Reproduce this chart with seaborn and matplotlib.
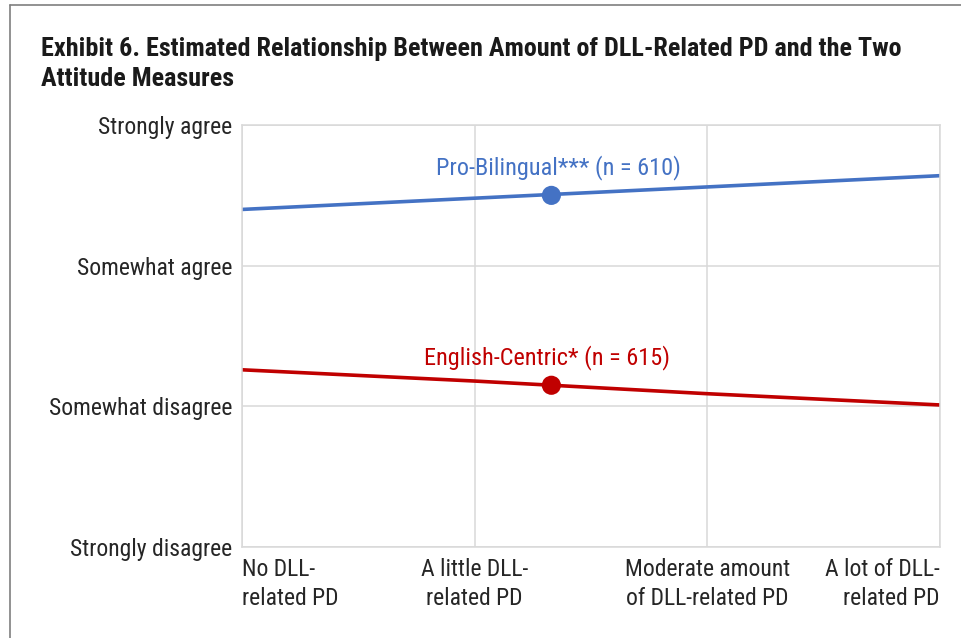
import matplotlib
matplotlib.use('Agg')
import matplotlib.pyplot as plt
import seaborn as sns
import pandas as pd
from matplotlib.lines import Line2D

# Data
pd_levels = ["No DLL-\nrelated PD", "A little DLL-\nrelated PD",
             "Moderate amount\nof DLL-related PD", "A lot of DLL-\nrelated PD"]
attitude_labels = ["Strongly disagree", "Somewhat disagree", "Somewhat agree", "Strongly agree"]
pro_bilingual = [3.40, 3.48, 3.56, 3.64]
english_centric = [2.26, 2.18, 2.09, 2.01]
mean_pd = 1.33
pro_bilingual_mean = 3.50
english_centric_mean = 2.15

blue = "#4472C4"
red = "#C00000"
grid_col = "#D9D9D9"
text_col = "#262626"

sns.set_style("white")
plt.rcParams['font.family'] = ['Roboto Condensed', 'Liberation Sans Narrow',
                               'DejaVu Sans Condensed', 'Roboto', 'DejaVu Sans']

df = pd.DataFrame({
    "pd": list(range(len(pd_levels))) * 2,
    "score": pro_bilingual + english_centric,
    "measure": ["Pro-Bilingual"] * 4 + ["English-Centric"] * 4,
})

fig = plt.figure(figsize=(9.61, 6.38), dpi=100)
ax = fig.add_axes([0.2518, 0.1426, 0.7262, 0.6614])

sns.lineplot(data=df, x="pd", y="score", hue="measure",
             palette={"Pro-Bilingual": blue, "English-Centric": red},
             linewidth=2.6, legend=False, ax=ax)
sns.scatterplot(x=[mean_pd, mean_pd], y=[pro_bilingual_mean, english_centric_mean],
                hue=["Pro-Bilingual", "English-Centric"],
                palette={"Pro-Bilingual": blue, "English-Centric": red},
                s=190, edgecolor="none", legend=False, zorder=5, ax=ax)

ax.set_xlim(0, 3)
ax.set_ylim(1, 4)
ax.set_xticks(range(4))
ax.set_yticks([1, 2, 3, 4])
ax.set_yticklabels(attitude_labels, fontsize=17, color=text_col)
ax.set_xticklabels(pd_levels, fontsize=17, color=text_col, linespacing=1.3)
for lab, ha in zip(ax.get_xticklabels(), ["left", "center", "center", "right"]):
    lab.set_ha(ha)
ax.tick_params(axis="y", length=0, pad=7)
ax.tick_params(axis="x", length=0, pad=8)
ax.set_xlabel("")
ax.set_ylabel("")
ax.grid(True, color=grid_col, linewidth=1.1)
ax.set_axisbelow(True)
for sp in ax.spines.values():
    sp.set_color(grid_col)
    sp.set_linewidth(1.1)

ax.text(1.36, 3.70, "Pro-Bilingual*** (n = 610)", color=blue, fontsize=17.5,
        ha="center", va="center")
ax.text(1.31, 2.35, "English-Centric* (n = 615)", color=red, fontsize=17.5,
        ha="center", va="center")

fig.text(41 / 961, 1 - 64 / 638, "Exhibit 6. Estimated Relationship Between Amount of DLL-Related PD and the Two\nAttitude Measures",
         fontsize=18.8, fontweight="bold", color="#1A1A1A", ha="left", va="center",
         linespacing=1.32)

# Outer frame lines (top and left)
fig.add_artist(Line2D([10 / 961, 1.0], [1 - 5 / 638, 1 - 5 / 638], transform=fig.transFigure,
                      color="#7F7F7F", linewidth=1.2))
fig.add_artist(Line2D([10 / 961, 10 / 961], [0, 1 - 5 / 638], transform=fig.transFigure,
                      color="#7F7F7F", linewidth=1.2))

fig.savefig("out.png", dpi=100)
